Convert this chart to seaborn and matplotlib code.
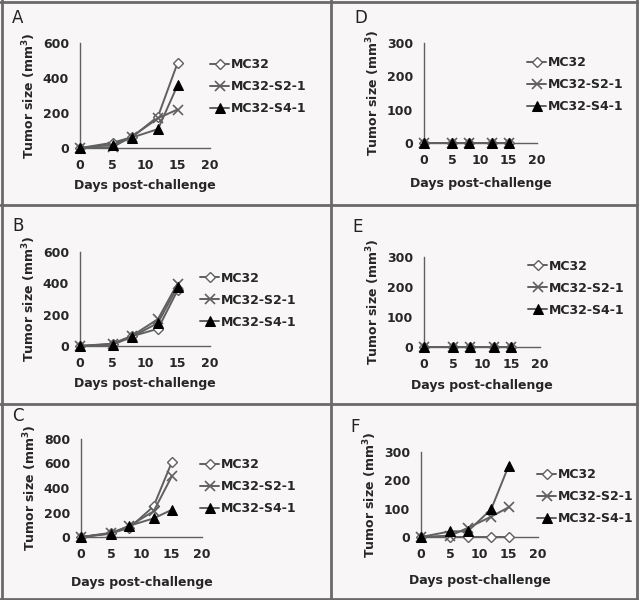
import matplotlib
matplotlib.use("Agg")
import matplotlib.pyplot as plt
import seaborn as sns
import pandas as pd
from matplotlib.lines import Line2D

sns.set_style("white")
plt.rcParams['font.family'] = ['DejaVu Sans']

days = [0, 5, 8, 12, 15]
groups = ["MC32", "MC32-S2-1", "MC32-S4-1"]

# tumor size (mm3) per panel, one list per group
A_mc32 = [0, 30, 62, 180, 485]
A_s2 = [0, 5, 65, 170, 220]
A_s4 = [0, 19, 60, 108, 358]

B_mc32 = [0, 12, 62, 110, 355]
B_s2 = [0, 15, 65, 172, 398]
B_s4 = [0, 8, 58, 148, 378]

C_mc32 = [0, 30, 75, 250, 610]
C_s2 = [0, 35, 90, 210, 495]
C_s4 = [0, 27, 92, 152, 222]

D_mc32 = [0, 0, 0, 0, 0]
D_s2 = [0, 0, 0, 0, 0]
D_s4 = [0, 0, 0, 0, 0]

E_mc32 = [0, 0, 0, 0, 0]
E_s2 = [0, 0, 0, 0, 0]
E_s4 = [0, 0, 0, 0, 0]

F_mc32 = [0, 0, 0, 0, 0]
F_s2 = [0, 5, 32, 72, 105]
F_s4 = [0, 20, 20, 98, 252]

panels = {
    "A": (A_mc32, A_s2, A_s4),
    "B": (B_mc32, B_s2, B_s4),
    "C": (C_mc32, C_s2, C_s4),
    "D": (D_mc32, D_s2, D_s4),
    "E": (E_mc32, E_s2, E_s4),
    "F": (F_mc32, F_s2, F_s4),
}
yticks = {"A": [0, 200, 400, 600], "B": [0, 200, 400, 600], "C": [0, 200, 400, 600, 800],
          "D": [0, 100, 200, 300], "E": [0, 100, 200, 300], "F": [0, 100, 200, 300]}
xticks = [0, 5, 10, 15, 20]

W, H = 639, 600
# axes boxes in pixels: left, right, bottom(y of x axis), top(y of max tick)
boxes = {"A": (80, 210, 148, 43), "B": (80, 210, 346, 252), "C": (81, 202, 537, 439),
         "D": (424, 537, 143, 43), "E": (424, 540, 347, 257), "F": (421, 538, 537, 452)}
legend_pos = {"A": (204, 87), "B": (194, 300), "C": (194, 487),
              "D": (521, 85), "E": (522, 288), "F": (531, 497)}
letter_pos = {"A": (12, 18), "B": (12, 226), "C": (12, 416),
              "D": (354, 18), "E": (352, 227), "F": (350, 427)}
xlabpad = {"A": 5, "B": 5, "C": 11, "D": 7, "E": 6, "F": 9}

bg = "#f8f6f6"
gray = "#606060"
fig = plt.figure(figsize=(W / 100, H / 100), dpi=100, facecolor=bg)

styles = [
    dict(marker="D", markersize=5, markerfacecolor="white", markeredgecolor=gray, markeredgewidth=1.0),
    dict(marker="x", markersize=6.5, markeredgecolor=gray, markeredgewidth=1.2),
    dict(marker="^", markersize=6.5, markerfacecolor="black", markeredgecolor="black"),
]

for key, series in panels.items():
    l, r, b, t = boxes[key]
    ax = fig.add_axes([l / W, 1 - b / H, (r - l) / W, (b - t) / H])
    ax.set_facecolor("none")
    for name, vals, st in zip(groups, series, styles):
        sns.lineplot(x=days, y=vals, ax=ax, color=gray, linewidth=1.4, label=name,
                     clip_on=False, zorder=3, **st)
    ax.set_xlim(0, 20)
    ax.set_ylim(0, yticks[key][-1])
    ax.set_xticks(xticks)
    ax.set_yticks(yticks[key])
    for s in ["top", "right"]:
        ax.spines[s].set_visible(False)
    for s in ["left", "bottom"]:
        ax.spines[s].set_color(gray)
        ax.spines[s].set_linewidth(1.0)
    ax.tick_params(axis="both", direction="out", length=4, width=1, color=gray,
                   labelsize=9, pad=4)
    for lab in ax.get_xticklabels() + ax.get_yticklabels():
        lab.set_fontweight("bold")
    ax.set_xlabel("Days post-challenge", fontsize=9, fontweight="bold", labelpad=xlabpad[key])
    ax.set_ylabel("Tumor size (mm$^\\mathbf{3}$)", fontsize=9, fontweight="bold", labelpad=3)
    lx, ly = legend_pos[key]
    leg = ax.legend(loc="center left", bbox_to_anchor=(lx / W, 1 - ly / H),
                    bbox_transform=fig.transFigure, frameon=False, fontsize=9,
                    handlelength=1.5, handletextpad=0.15, labelspacing=0.72, borderpad=0)
    for txt in leg.get_texts():
        txt.set_fontweight("bold")
    px, py = letter_pos[key]
    fig.text(px / W, 1 - py / H, key, fontsize=12, ha="left", va="center", color="#222222")

# panel frame lines
lc = "#6a6a6a"
for x in [1.5, 331, 637]:
    fig.add_artist(Line2D([x / W, x / W], [0, 1], color=lc, linewidth=2))
for y in [1.5, 205, 404, 598.5]:
    fig.add_artist(Line2D([0, 1], [1 - y / H, 1 - y / H], color=lc, linewidth=2))

fig.savefig("out.png", dpi=100, facecolor=bg)
